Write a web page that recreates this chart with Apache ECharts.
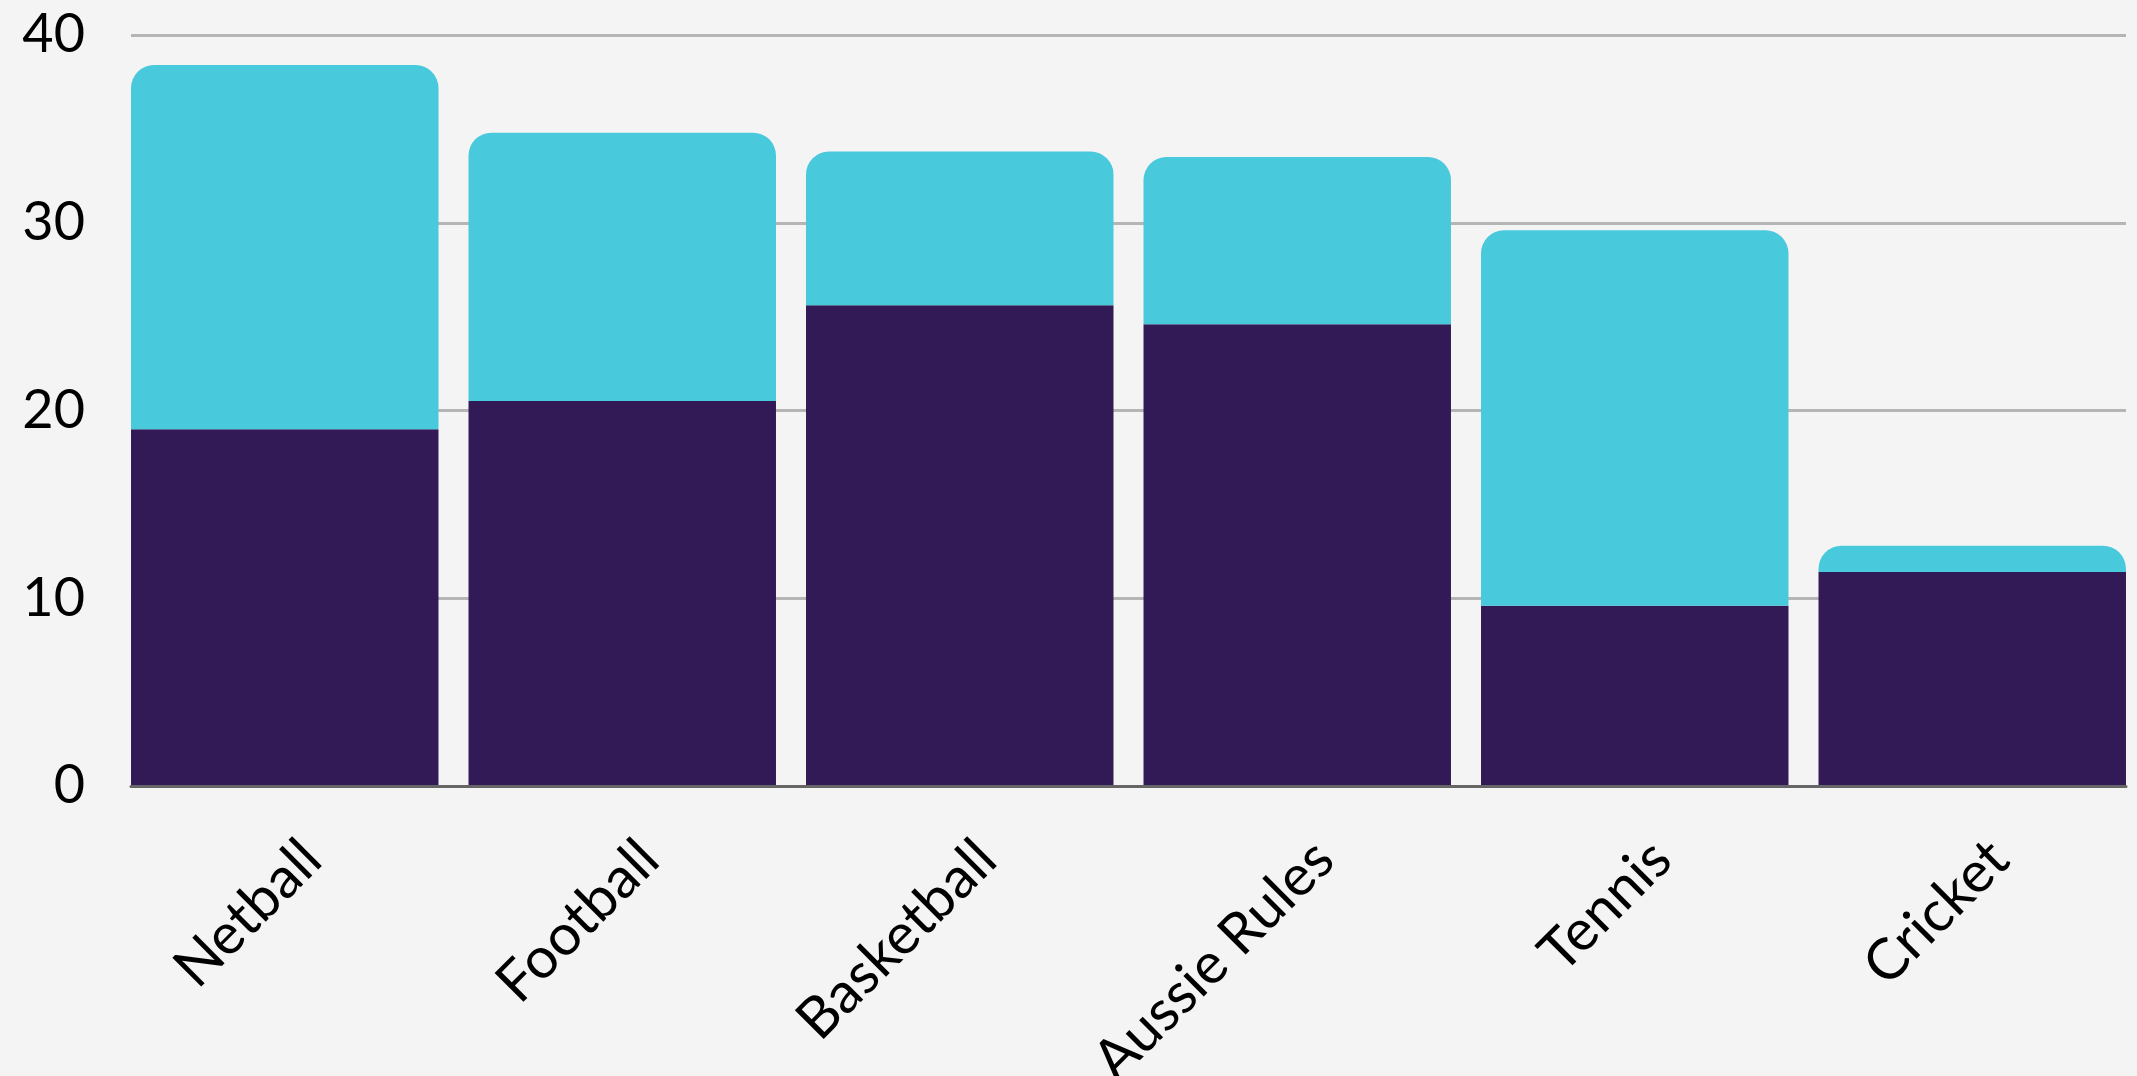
<!DOCTYPE html>
<html>
<head>
<meta charset="utf-8">
<style>
  html, body { margin: 0; padding: 0; background: #F4F4F4; }
  #chart { width: 2137px; height: 1076px; }
</style>
<script src="https://cdn.jsdelivr.net/npm/echarts@6/dist/echarts.min.js"></script>
</head>
<body>
<div id="chart"></div>
<script>
// Sports, with the two stacked segments of each bar
const sports = ['Netball', 'Football', 'Basketball', 'Aussie Rules', 'Tennis', 'Cricket'];
const lowerValues = [19.0, 20.5, 25.6, 24.6, 9.6, 11.4];
const upperValues = [19.4, 14.3, 8.2, 8.9, 20.0, 1.4];
const yTicks = [0, 10, 20, 30, 40];

const FONT = 'Lato, "Open Sans", sans-serif';
const TOP = 35, BOTTOM = 290;

const chart = echarts.init(document.getElementById('chart'), null, { renderer: 'canvas' });
chart.setOption({
  backgroundColor: '#F4F4F4',
  animation: false,
  grid: [
    // frame: gridlines, value labels and baseline
    { left: 131, right: 11, top: TOP, bottom: BOTTOM, outerBoundsMode: 'none' },
    // bars: category bands widened so outer bars sit flush with the frame
    { left: 116, width: 2025, top: TOP, bottom: BOTTOM, outerBoundsMode: 'none' },
    // slanted category names, set a little right of and below the bar centres
    { left: 143, width: 2025, top: TOP, bottom: 262, outerBoundsMode: 'none' }
  ],
  xAxis: [
    {
      gridIndex: 0,
      type: 'category',
      data: sports,
      axisTick: { show: false },
      axisLabel: { show: false },
      axisLine: { show: true, lineStyle: { color: '#666666', width: 3 } },
      z: 3
    },
    {
      gridIndex: 1,
      type: 'category',
      data: sports,
      axisTick: { show: false },
      axisLine: { show: false },
      axisLabel: { show: false }
    },
    {
      gridIndex: 2,
      type: 'category',
      data: sports,
      axisTick: { show: false },
      axisLine: { show: false },
      axisLabel: {
        interval: 0,
        rotate: 45,
        margin: 36,
        hideOverlap: false,
        color: '#000000',
        fontFamily: FONT,
        fontSize: 57
      }
    }
  ],
  yAxis: [
    {
      gridIndex: 0,
      type: 'value',
      min: yTicks[0],
      max: yTicks[yTicks.length - 1],
      interval: 10,
      axisLine: { show: false },
      axisTick: { show: false },
      splitLine: { lineStyle: { color: '#B5B5B5', width: 3 } },
      axisLabel: {
        margin: 46,
        color: '#000000',
        fontFamily: FONT,
        fontSize: 54
      }
    },
    {
      gridIndex: 1,
      type: 'value',
      min: yTicks[0],
      max: yTicks[yTicks.length - 1],
      interval: 10,
      show: false,
      splitLine: { show: false }
    },
    {
      gridIndex: 2,
      type: 'value',
      min: yTicks[0],
      max: yTicks[yTicks.length - 1],
      interval: 10,
      show: false,
      splitLine: { show: false }
    }
  ],
  series: [
    {
      name: 'lower',
      type: 'bar',
      xAxisIndex: 1,
      yAxisIndex: 1,
      stack: 'total',
      barCategoryGap: '8.9%',
      data: lowerValues,
      itemStyle: { color: '#321A56' }
    },
    {
      name: 'upper',
      type: 'bar',
      xAxisIndex: 1,
      yAxisIndex: 1,
      stack: 'total',
      barCategoryGap: '8.9%',
      data: upperValues,
      itemStyle: { color: '#48C9DC', borderRadius: [23, 23, 0, 0] }
    }
  ]
});
</script>
</body>
</html>
